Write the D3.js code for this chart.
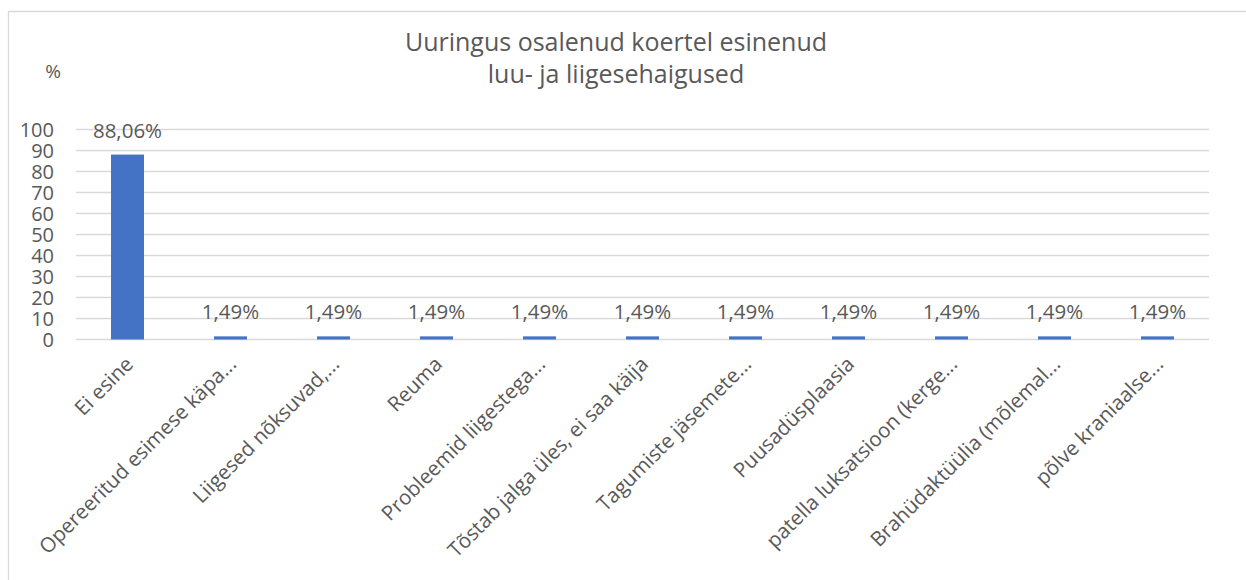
<!DOCTYPE html>
<html>
<head>
<meta charset="utf-8">
<script src="https://cdn.jsdelivr.net/npm/d3@7"></script>
<style>
  html, body { margin: 0; padding: 0; background: #fff; }
  svg { display: block; }
  text { font-family: "Open Sans", "Liberation Sans", sans-serif; fill: #595959; }
</style>
</head>
<body>
<svg id="chart" width="1246" height="580"></svg>
<script>
const titleLines = ["Uuringus osalenud koertel esinenud", "luu- ja liigesehaigused"];
const yAxisTitle = "%";
const categories = [
  "Ei esine",
  "Opereeritud esimese käpa...",
  "Liigesed nõksuvad,...",
  "Reuma",
  "Probleemid liigestega...",
  "Tõstab jalga üles, ei saa käija",
  "Tagumiste jäsemete...",
  "Puusadüsplaasia",
  "patella luksatsioon (kerge...",
  "Brahüdaktüülia (mõlemal...",
  "põlve kraniaalse..."
];
const values = [88.06, 1.49, 1.49, 1.49, 1.49, 1.49, 1.49, 1.49, 1.49, 1.49, 1.49];
const valueLabels = ["88,06%", "1,49%", "1,49%", "1,49%", "1,49%", "1,49%", "1,49%", "1,49%", "1,49%", "1,49%", "1,49%"];
const yTicks = [0, 10, 20, 30, 40, 50, 60, 70, 80, 90, 100];

const svg = d3.select("#chart");

// outer chart border (left and top visible)
svg.append("path")
  .attr("d", "M8.5,580 L8.5,11.5 L1246,11.5")
  .attr("fill", "none").attr("stroke", "#d9d9d9").attr("stroke-width", 1.3);

const x = d3.scaleBand().domain(categories).range([76, 1209]).paddingInner(0.68).paddingOuter(0.34);
const y = d3.scaleLinear().domain([0, 100]).range([339.5, 129.5]);

// gridlines
svg.append("g").selectAll("line").data(yTicks).join("line")
  .attr("x1", 76).attr("x2", 1209)
  .attr("y1", d => y(d)).attr("y2", d => y(d))
  .attr("stroke", "#d9d9d9").attr("stroke-width", 1.3);

// y axis labels
const yAxis = d3.axisLeft(y).tickValues(yTicks).tickSize(0).tickPadding(0).tickFormat(d3.format("d"));
const gy = svg.append("g").attr("transform", "translate(54,0)").call(yAxis);
gy.select(".domain").remove();
gy.selectAll("text").style("font-size", "20px").attr("fill", "#595959")
  .style("font-family", "'Open Sans', sans-serif").attr("dy", "0.34em");

// bars
svg.append("g").selectAll("rect").data(values).join("rect")
  .attr("x", (d, i) => x(categories[i]))
  .attr("width", x.bandwidth())
  .attr("y", d => y(d))
  .attr("height", d => y(0) - y(d))
  .attr("fill", "#4472c4");

// value labels
svg.append("g").selectAll("text").data(values).join("text")
  .attr("x", (d, i) => x(categories[i]) + x.bandwidth() / 2)
  .attr("y", d => y(d) - 17)
  .attr("text-anchor", "middle")
  .style("font-size", "20.5px")
  .text((d, i) => valueLabels[i]);

// category labels
const xAxis = d3.axisBottom(x).tickSize(0).tickPadding(0);
const gx = svg.append("g").attr("transform", "translate(0,339.5)").call(xAxis);
gx.select(".domain").remove();
gx.selectAll(".tick text")
  .attr("text-anchor", "end")
  .attr("fill", "#595959")
  .style("font-size", "20.5px")
  .style("font-family", "'Open Sans', sans-serif")
  .attr("dy", null)
  .attr("y", 0)
  .attr("transform", "translate(7,26) rotate(-45)");

// title
svg.append("g").selectAll("text").data(titleLines).join("text")
  .attr("x", 616).attr("y", (d, i) => 51 + i * 32)
  .attr("text-anchor", "middle")
  .style("font-size", "25px")
  .text(d => d);

// y axis title
svg.append("text").attr("x", 53).attr("y", 78).attr("text-anchor", "middle")
  .style("font-size", "19px").text(yAxisTitle);
</script>
</body>
</html>
